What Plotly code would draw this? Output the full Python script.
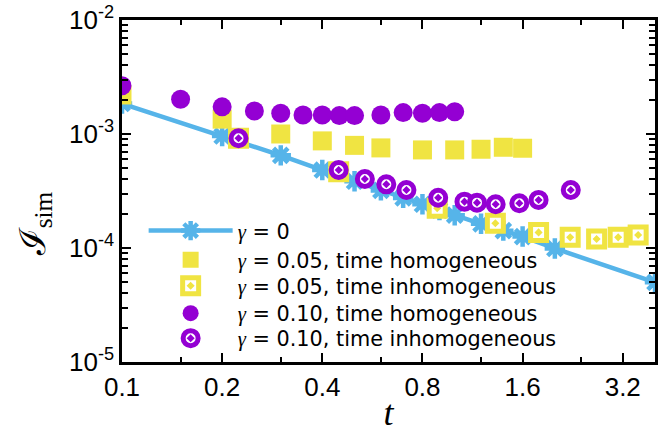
import plotly.graph_objects as go

# gamma = 0
t_g0 = [0.1, 0.2, 0.3, 0.4, 0.5, 0.6, 0.7, 0.8, 0.9, 1.0, 1.2, 1.4, 1.6, 2.0, 4.0]
I_g0 = [1.85e-3, 9.6e-4, 6.5e-4, 4.83e-4, 3.85e-4, 3.2e-4, 2.75e-4, 2.42e-4,
        2.15e-4, 1.94e-4, 1.63e-4, 1.42e-4, 1.26e-4, 9.9e-5, 5.0e-5]

# gamma = 0.05, time homogeneous
t_g05h = [0.1, 0.2, 0.3, 0.4, 0.5, 0.6, 0.8, 1.0, 1.2, 1.4, 1.6]
I_g05h = [2.2e-3, 1.35e-3, 1.0e-3, 8.7e-4, 7.95e-4, 7.55e-4, 7.25e-4, 7.25e-4,
          7.35e-4, 7.65e-4, 7.5e-4]

# gamma = 0.05, time inhomogeneous
t_g05i = [0.224, 0.448, 0.886, 1.325, 1.787, 2.224, 2.67, 3.10, 3.56]
I_g05i = [9.17e-4, 4.67e-4, 2.23e-4, 1.65e-4, 1.37e-4, 1.24e-4, 1.20e-4, 1.24e-4, 1.30e-4]

# gamma = 0.10, time homogeneous
t_g10h = [0.1, 0.15, 0.2, 0.25, 0.3, 0.35, 0.4, 0.45, 0.5, 0.6, 0.7, 0.8, 0.9, 1.0]
I_g10h = [2.65e-3, 2.02e-3, 1.73e-3, 1.59e-3, 1.52e-3, 1.47e-3, 1.47e-3, 1.45e-3,
          1.45e-3, 1.47e-3, 1.54e-3, 1.52e-3, 1.54e-3, 1.57e-3]

# gamma = 0.10, time inhomogeneous
t_g10i = [0.224, 0.448, 0.537, 0.623, 0.716, 0.892, 1.07, 1.167, 1.328, 1.564, 1.787, 2.233]
I_g10i = [9.17e-4, 4.83e-4, 4.03e-4, 3.62e-4, 3.23e-4, 2.76e-4, 2.55e-4, 2.50e-4,
          2.42e-4, 2.47e-4, 2.64e-4, 3.23e-4]

x_tickvals = [0.1, 0.2, 0.4, 0.8, 1.6, 3.2]
x_ticktext = ["0.1", "0.2", "0.4", "0.8", "1.6", "3.2"]
x_minor = [0.15, 0.3, 0.6, 1.2, 2.4]
y_tickvals = [1e-5, 1e-4, 1e-3, 1e-2]
y_ticktext = ["10<sup>-5</sup>", "10<sup>-4</sup>", "10<sup>-3</sup>", "10<sup>-2</sup>"]
y_minor = [k * 10.0 ** e for e in (-5, -4, -3) for k in range(2, 10)]

BLUE = "#56B4E9"
YELLOW = "#F0E442"
PURPLE = "#9400D3"


def lab(rest):
    return ("<span style='font-family:Liberation Serif;font-style:italic'>γ</span>" + rest)


traces = [
    dict(x=t_g0, y=I_g0, mode="lines+markers", name=lab(" = 0"),
         line=dict(color=BLUE, width=4.5),
         marker=dict(symbol="asterisk-open", size=17, line=dict(color=BLUE, width=4.5))),
    dict(x=t_g05h, y=I_g05h, mode="markers", name=lab(" = 0.05, time homogeneous"),
         marker=dict(symbol="square", size=19, color=YELLOW, line=dict(width=0))),
    dict(x=t_g05i, y=I_g05i, mode="markers", name=lab(" = 0.05, time inhomogeneous"),
         marker=dict(symbol="square-dot", size=16, color="white", line=dict(color=YELLOW, width=5))),
    dict(x=t_g10h, y=I_g10h, mode="markers", name=lab(" = 0.10, time homogeneous"),
         marker=dict(symbol="circle", size=19, color=PURPLE, line=dict(width=0))),
    dict(x=t_g10i, y=I_g10i, mode="markers", name=lab(" = 0.10, time inhomogeneous"),
         marker=dict(symbol="circle-dot", size=15, color="white", line=dict(color=PURPLE, width=5))),
]

legend_names = ["legend", "legend2", "legend3", "legend4", "legend5"]
legend_rows_y = [0.3830, 0.2976, 0.2216, 0.1414, 0.0683]

fig = go.Figure()
for tr, lg in zip(traces, legend_names):
    fig.add_trace(go.Scatter(legend=lg, **tr))

axis_common = dict(showline=True, linecolor="black", linewidth=2.5, mirror="allticks",
                   ticks="inside", ticklen=9, tickwidth=1.5, tickcolor="black",
                   showgrid=False, zeroline=False, automargin=False,
                   ticklabeloverflow="allow",
                   tickfont=dict(family="Liberation Sans", size=26, color="black"))

fig.update_xaxes(type="log", range=[-1, 0.60206], tickmode="array",
                 tickvals=x_tickvals, ticktext=x_ticktext,
                 minor=dict(tickvals=x_minor, ticks="inside", ticklen=5, tickwidth=1.5, tickcolor="black"),
                 title=dict(text="<i>t</i>", font=dict(family="Liberation Serif", size=36, color="black"),
                            standoff=0),
                 **axis_common)
fig.update_yaxes(type="log", range=[-5, -2], tickmode="array",
                 tickvals=y_tickvals, ticktext=y_ticktext,
                 minor=dict(tickvals=y_minor, ticks="inside", ticklen=6, tickwidth=1.5, tickcolor="black"),
                 **axis_common)

fig.add_annotation(text="ℐ<sub>sim</sub>", xref="paper", yref="paper",
                   x=-0.163, y=0.403, xanchor="center", yanchor="middle",
                   textangle=-90, showarrow=False,
                   font=dict(family="Liberation Serif", size=36, color="black"))

legend_layout = {}
for lg, yy in zip(legend_names, legend_rows_y):
    legend_layout[lg] = dict(x=0.0406, y=yy, xanchor="left", yanchor="middle",
                             bgcolor="rgba(0,0,0,0)", borderwidth=0, itemwidth=84,
                             font=dict(family="DejaVu Sans", size=20.8, color="black"))

fig.update_layout(
    width=670, height=433,
    margin=dict(l=122, r=15, t=20, b=71, autoexpand=False),
    plot_bgcolor="white", paper_bgcolor="white",
    font=dict(family="DejaVu Sans", size=20.8, color="black"),
    showlegend=True,
    **legend_layout,
)

fig.write_html("out.html", config={"displayModeBar": False},
               post_script="document.body.style.margin='0';")
